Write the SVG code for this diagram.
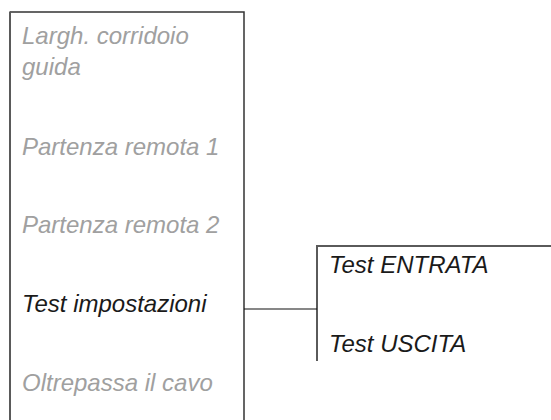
<svg xmlns="http://www.w3.org/2000/svg" width="551" height="420" viewBox="0 0 551 420">
<style>
.t{font-family:"Liberation Sans",Arial,sans-serif;font-style:italic;font-size:24px}
.g{fill:#a0a0a0}
.k{fill:#1a1a1a}
.edge{fill:none;stroke:#5a5a5a;stroke-width:2}
.dark{fill:none;stroke:#333;stroke-width:1.5}
</style>
<rect width="551" height="420" fill="#fff"/>
<g id="menu">
<path class="dark" d="M10,12 H244 V421"/>
<path class="edge" d="M10,11.5 V421"/>
<text class="t g" x="22" y="44">Largh. corridoio</text>
<text class="t g" x="22" y="75">guida</text>
<text class="t g" x="22" y="155">Partenza remota 1</text>
<text class="t g" x="22" y="233">Partenza remota 2</text>
<text class="t k" x="22" y="312">Test impostazioni</text>
<text class="t g" x="22" y="391">Oltrepassa il cavo</text>
</g>
<g id="submenu">
<path class="edge" d="M317,361 V246 H552"/>
<text class="t k" x="329" y="273">Test ENTRATA</text>
<text class="t k" x="329" y="351.5">Test USCITA</text>
</g>
<g id="connectors">
<line x1="244" y1="309" x2="317" y2="309" stroke="#111" stroke-width="1.2"/>
</g>
</svg>
